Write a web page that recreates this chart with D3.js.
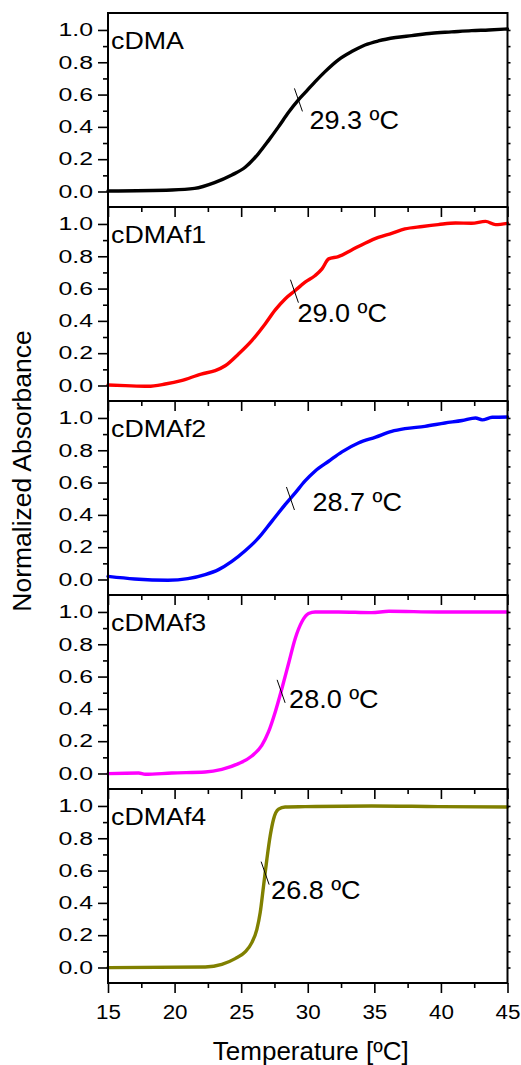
<!DOCTYPE html>
<html>
<head>
<meta charset="utf-8">
<script src="https://cdn.jsdelivr.net/npm/d3@7"></script>
<style>
  body { margin: 0; background: #fff; }
  text { font-family: "Liberation Sans", Arial, sans-serif; fill: #000; }
</style>
</head>
<body>
<svg id="chart" width="521" height="1065"></svg>
<script>
// Sample names and midpoint (cloud point) temperatures
const sampleNames = ["cDMA", "cDMAf1", "cDMAf2", "cDMAf3", "cDMAf4"];
const transitionTemps = [29.3, 29.0, 28.7, 28.0, 26.8];
const transitionLabels = ["29.3 ºC", "29.0 ºC", "28.7 ºC", "28.0 ºC", "26.8 ºC"];

// Normalized absorbance vs temperature, one pair of arrays per sample
const cdmaT = [15.0, 19.8, 21.5, 23.0, 24.3, 25.3, 26.3, 27.05, 27.8, 28.56, 29.3, 29.8, 30.56, 31.3, 32.3, 33.3, 34.3, 35.3, 36.6, 37.8, 39.3, 40.8, 42.3, 43.6, 45.0];
const cdmaA = [0.003, 0.009, 0.019, 0.055, 0.102, 0.150, 0.235, 0.315, 0.400, 0.490, 0.567, 0.612, 0.680, 0.742, 0.815, 0.866, 0.907, 0.932, 0.953, 0.965, 0.980, 0.988, 0.996, 1.000, 1.006];

const cdmaf1T = [15.0, 16.3, 18.0, 19.3, 20.5, 22.0, 23.05, 23.8, 24.8, 25.8, 26.8, 27.56, 28.3, 29.06, 29.8, 30.56, 31.07, 31.57, 32.3, 33.3, 34.3, 35.3, 36.3, 37.3, 38.6, 39.8, 41.1, 42.3, 43.35, 44.1, 45.0];
const cdmaf1A = [0.003, -0.001, -0.005, 0.009, 0.030, 0.071, 0.092, 0.122, 0.195, 0.278, 0.381, 0.468, 0.536, 0.588, 0.640, 0.681, 0.722, 0.784, 0.798, 0.839, 0.881, 0.917, 0.942, 0.969, 0.984, 0.996, 1.006, 1.004, 1.016, 0.996, 1.004];

const cdmaf2T = [15.0, 17.0, 19.5, 21.0, 22.3, 23.3, 24.3, 25.3, 26.3, 27.3, 28.3, 29.06, 29.8, 30.56, 31.57, 32.57, 33.8, 35.1, 36.3, 37.3, 38.8, 40.3, 41.6, 42.6, 43.1, 43.85, 45.0];
const cdmaf2A = [0.019, 0.003, -0.005, 0.005, 0.030, 0.061, 0.112, 0.178, 0.257, 0.360, 0.463, 0.536, 0.610, 0.672, 0.732, 0.790, 0.845, 0.881, 0.917, 0.934, 0.948, 0.969, 0.984, 1.000, 0.988, 1.004, 1.006];

const cdmaf3T = [15.0, 17.3, 17.8, 19.8, 22.3, 23.55, 24.8, 25.8, 26.55, 27.05, 27.56, 28.06, 28.56, 29.06, 29.56, 30.06, 30.56, 32.3, 34.8, 36.1, 39.8, 45.0];
const cdmaf3A = [-0.001, 0.003, -0.005, 0.003, 0.009, 0.026, 0.061, 0.108, 0.174, 0.257, 0.381, 0.526, 0.681, 0.836, 0.939, 0.990, 1.000, 1.000, 0.996, 1.004, 1.000, 1.000];

const cdmaf4T = [15.0, 22.3, 23.55, 24.55, 25.3, 25.8, 26.18, 26.43, 26.68, 26.93, 27.18, 27.43, 27.81, 28.3, 29.8, 34.8, 39.8, 45.0];
const cdmaf4A = [-0.001, 0.003, 0.019, 0.055, 0.096, 0.154, 0.236, 0.340, 0.505, 0.670, 0.815, 0.918, 0.980, 0.994, 0.996, 1.000, 0.996, 0.994];

// Axis ticks
const xMajorTicks = [15, 20, 25, 30, 35, 40, 45];
const xMinorTicks = [17.5, 22.5, 27.5, 32.5, 37.5, 42.5];
const yMajorTicks = [0.0, 0.2, 0.4, 0.6, 0.8, 1.0];
const yMinorTicks = [0.1, 0.3, 0.5, 0.7, 0.9];
const yRightTicks = [0.0, 0.1, 0.2, 0.3, 0.4, 0.5, 0.6, 0.7, 0.8, 0.9, 1.0];

const xTitle = "Temperature [ºC]";
const yTitle = "Normalized Absorbance";

// Styling / layout
const seriesColors = ["#000000", "#ff0000", "#0000ff", "#ff00ff", "#808000"];
const labelOffsets = [[11, 29], [3, 31], [22, 13], [8, 17], [6, 26]];

const series = [
  { t: cdmaT, a: cdmaA },
  { t: cdmaf1T, a: cdmaf1A },
  { t: cdmaf2T, a: cdmaf2A },
  { t: cdmaf3T, a: cdmaf3A },
  { t: cdmaf4T, a: cdmaf4A }
];

const svg = d3.select("#chart");
const left = 108, right = 507.5, top0 = 13, panelH = 194;

const x = d3.scaleLinear().domain([15, 45]).range([left, right]);

function interp(ts, as, t) {
  for (let i = 1; i < ts.length; i++) {
    if (t <= ts[i]) {
      const f = (t - ts[i - 1]) / (ts[i] - ts[i - 1]);
      return as[i - 1] + f * (as[i] - as[i - 1]);
    }
  }
  return as[as.length - 1];
}

// widen glyphs horizontally by a factor, keeping the anchor
function widen(sel, k) {
  sel.each(function () {
    const n = this.getComputedTextLength();
    if (n > 0) {
      d3.select(this).attr("textLength", n * k).attr("lengthAdjust", "spacingAndGlyphs");
    }
  });
}

function styleAxis(g) {
  g.select(".domain").remove();
  g.selectAll(".tick line").attr("stroke", "#000").attr("stroke-width", 1.6);
}

series.forEach((s, i) => {
  const top = top0 + i * panelH;
  const y = d3.scaleLinear().domain([-0.096, 1.105]).range([top + panelH, top]);
  const g = svg.append("g");
  const isLast = i === series.length - 1;

  // absorbance curve
  const pts = d3.zip(s.t, s.a);
  g.append("path")
    .datum(pts)
    .attr("fill", "none")
    .attr("stroke", seriesColors[i])
    .attr("stroke-width", 3.4)
    .attr("stroke-linejoin", "round")
    .attr("stroke-linecap", "round")
    .attr("d", d3.line().x(d => x(d[0])).y(d => y(d[1])).curve(d3.curveMonotoneX));

  // left axis: major with labels, minor without
  const yl = g.append("g").attr("transform", `translate(${left},0)`)
    .call(d3.axisLeft(y).tickValues(yMajorTicks).tickFormat(d3.format(".1f")).tickSize(10).tickPadding(5))
    .call(styleAxis);
  yl.selectAll(".tick text")
    .attr("font-size", 18).attr("font-family", "Liberation Sans, Arial, sans-serif").attr("fill", "#000")
    .call(widen, 1.38);
  g.append("g").attr("transform", `translate(${left},0)`)
    .call(d3.axisLeft(y).tickValues(yMinorTicks).tickFormat("").tickSize(5))
    .call(styleAxis);

  // right axis ticks
  g.append("g").attr("transform", `translate(${right},0)`)
    .call(d3.axisRight(y).tickValues(yRightTicks).tickFormat("").tickSize(3))
    .call(styleAxis);

  // bottom axis ticks (labels only on the lowest panel)
  const xb = g.append("g").attr("transform", `translate(0,${top + panelH})`)
    .call(d3.axisBottom(x).tickValues(xMajorTicks).tickFormat(isLast ? d3.format("d") : "").tickSize(10).tickPadding(12))
    .call(styleAxis);
  xb.selectAll(".tick text")
    .attr("font-size", 20).attr("font-family", "Liberation Sans, Arial, sans-serif").attr("fill", "#000")
    .call(widen, 1.12);
  g.append("g").attr("transform", `translate(0,${top + panelH})`)
    .call(d3.axisBottom(x).tickValues(xMinorTicks).tickFormat("").tickSize(5))
    .call(styleAxis);

  // frame
  g.append("rect")
    .attr("x", left).attr("y", top)
    .attr("width", right - left).attr("height", panelH)
    .attr("fill", "none").attr("stroke", "#000").attr("stroke-width", 2);

  // sample name
  g.append("text")
    .attr("x", left + 3).attr("y", top + 36)
    .attr("font-size", 23.5)
    .text(sampleNames[i])
    .call(widen, 1.14);

  // transition marker and its label
  const tm = transitionTemps[i];
  const cx = x(tm), cy = y(interp(s.t, s.a, tm));
  g.append("line")
    .attr("x1", cx - 4).attr("y1", cy - 11.5)
    .attr("x2", cx + 4).attr("y2", cy + 11.5)
    .attr("stroke", "#000").attr("stroke-width", 1);
  g.append("text")
    .attr("x", cx + labelOffsets[i][0]).attr("y", cy + labelOffsets[i][1])
    .attr("font-size", 26.5)
    .text(transitionLabels[i])
    .call(widen, 1.02);
});

// axis titles
svg.append("text")
  .attr("x", (left + right) / 2 + 3).attr("y", 1060)
  .attr("text-anchor", "middle")
  .attr("font-size", 26)
  .text(xTitle);

svg.append("text")
  .attr("transform", "translate(31,471) rotate(-90)")
  .attr("text-anchor", "middle")
  .attr("font-size", 26.5)
  .text(yTitle);
</script>
</body>
</html>
